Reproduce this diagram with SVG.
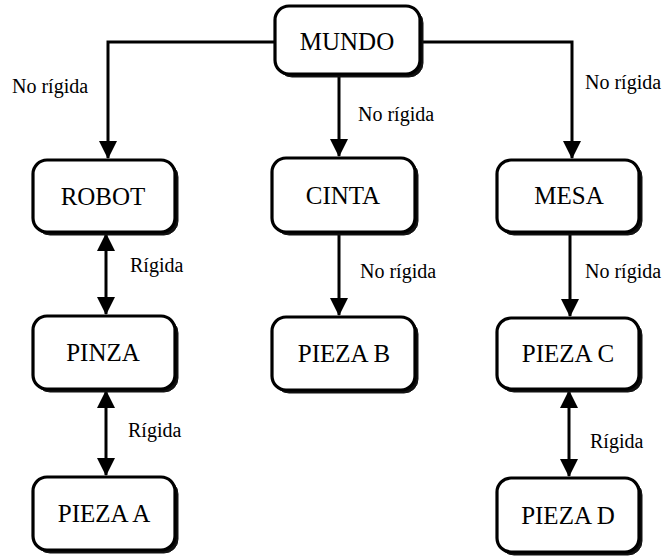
<svg xmlns="http://www.w3.org/2000/svg" width="665" height="559" viewBox="0 0 665 559">
  <style>
    .shadow { fill: #111; stroke: #111; stroke-width: 1; }
    .box { fill: #fff; stroke: #000; stroke-width: 3.2; }
    .ntext { font-family: 'Liberation Serif', 'DejaVu Serif', 'Noto Serif', serif; font-size: 25px; fill: #000; text-anchor: middle; }
    .ltext { font-family: 'Liberation Serif', 'DejaVu Serif', 'Noto Serif', serif; font-size: 20px; fill: #000; }
    .conn { fill: none; stroke: #000; stroke-width: 3; }
  </style>
  <defs>
    <marker id="arr" viewBox="0 0 18 18" refX="17" refY="9" markerWidth="18" markerHeight="18" markerUnits="userSpaceOnUse" orient="auto-start-reverse">
      <path d="M0,0 L18,9 L0,18 z" fill="#000"/>
    </marker>
  </defs>

  <g id="connectors">
    <path class="conn" d="M275,42 H108 V158" marker-end="url(#arr)"/>
    <path class="conn" d="M420,42 H572 V158" marker-end="url(#arr)"/>
    <path class="conn" d="M339,76 V156" marker-end="url(#arr)"/>
    <path class="conn" d="M339,234 V315" marker-end="url(#arr)"/>
    <path class="conn" d="M570,234 V316" marker-end="url(#arr)"/>
    <path class="conn" d="M106,234 V314" marker-start="url(#arr)" marker-end="url(#arr)"/>
    <path class="conn" d="M106,391 V475" marker-start="url(#arr)" marker-end="url(#arr)"/>
    <path class="conn" d="M569,391 V476" marker-start="url(#arr)" marker-end="url(#arr)"/>
    <text class="ltext" x="12" y="93" font-family="Liberation Serif, serif">No rígida</text>
    <text class="ltext" x="358" y="121" font-family="Liberation Serif, serif">No rígida</text>
    <text class="ltext" x="585" y="89" font-family="Liberation Serif, serif">No rígida</text>
    <text class="ltext" x="360" y="278" font-family="Liberation Serif, serif">No rígida</text>
    <text class="ltext" x="585" y="278" font-family="Liberation Serif, serif">No rígida</text>
    <text class="ltext" x="130" y="272" font-family="Liberation Serif, serif">Rígida</text>
    <text class="ltext" x="128" y="437" font-family="Liberation Serif, serif">Rígida</text>
    <text class="ltext" x="590" y="448" font-family="Liberation Serif, serif">Rígida</text>
  </g>

  <g id="mundo">
    <rect class="shadow" x="278" y="9" width="145" height="68" rx="14"/>
    <rect class="box" x="275" y="6" width="145" height="68" rx="14"/>
    <text class="ntext" x="347" y="50">MUNDO</text>
  </g>
  <g id="robot">
    <rect class="shadow" x="36" y="163" width="142" height="72" rx="14"/>
    <rect class="box" x="33" y="160" width="142" height="72" rx="14"/>
    <text class="ntext" x="103" y="205">ROBOT</text>
  </g>
  <g id="cinta">
    <rect class="shadow" x="275" y="161" width="143" height="74" rx="14"/>
    <rect class="box" x="272" y="158" width="143" height="74" rx="14"/>
    <text class="ntext" x="343" y="204">CINTA</text>
  </g>
  <g id="mesa">
    <rect class="shadow" x="500" y="163" width="142" height="72" rx="14"/>
    <rect class="box" x="497" y="160" width="142" height="72" rx="14"/>
    <text class="ntext" x="569" y="204">MESA</text>
  </g>
  <g id="pinza">
    <rect class="shadow" x="36" y="319" width="142" height="73" rx="14"/>
    <rect class="box" x="33" y="316" width="142" height="73" rx="14"/>
    <text class="ntext" x="103" y="361">PINZA</text>
  </g>
  <g id="pieza-b">
    <rect class="shadow" x="275" y="320" width="143" height="73" rx="14"/>
    <rect class="box" x="272" y="317" width="143" height="73" rx="14"/>
    <text class="ntext" x="344" y="362">PIEZA B</text>
  </g>
  <g id="pieza-c">
    <rect class="shadow" x="500" y="321" width="142" height="71" rx="14"/>
    <rect class="box" x="497" y="318" width="142" height="71" rx="14"/>
    <text class="ntext" x="568" y="362">PIEZA C</text>
  </g>
  <g id="pieza-a">
    <rect class="shadow" x="36" y="480" width="142" height="73" rx="14"/>
    <rect class="box" x="33" y="477" width="142" height="73" rx="14"/>
    <text class="ntext" x="104" y="522">PIEZA A</text>
  </g>
  <g id="pieza-d">
    <rect class="shadow" x="500" y="481" width="142" height="74" rx="14"/>
    <rect class="box" x="497" y="478" width="142" height="74" rx="14"/>
    <text class="ntext" x="568" y="524">PIEZA D</text>
  </g>
</svg>
